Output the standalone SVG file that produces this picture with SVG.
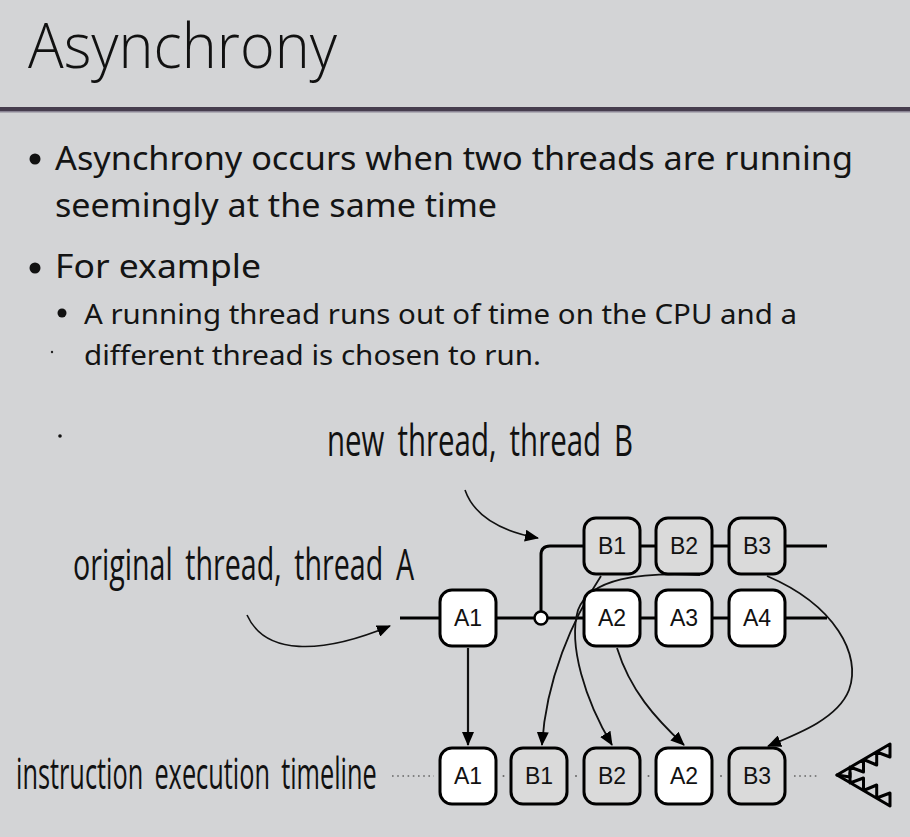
<svg xmlns="http://www.w3.org/2000/svg" width="910" height="837" viewBox="0 0 910 837">
  <defs>
    <style>
      .title { font-family: "Open Sans", "Liberation Sans", sans-serif; font-weight: 300; font-size: 62px; fill: #111; }
      .b1 { font-family: "Noto Sans", "Open Sans", sans-serif; font-size: 33px; fill: #141414; }
      .b2 { font-family: "Noto Sans", "Open Sans", sans-serif; font-size: 28px; fill: #141414; }
      .hand { font-family: "Open Sans", "DejaVu Sans", sans-serif; font-weight: 400; font-size: 44px; fill: #111; word-spacing: 8px; }
      .box { stroke: #000; stroke-width: 3; }
      .a { fill: #fff; }
      .b { fill: #dadada; }
      .lbl { font-family: "Liberation Sans", Arial, sans-serif; font-size: 23px; fill: #111; text-anchor: middle; }
      .wire { fill: none; stroke: #000; stroke-width: 3; }
      .flow { fill: none; stroke: #111; stroke-width: 1.8; marker-end: url(#head); }
      .flow0 { fill: none; stroke: #111; stroke-width: 2.2; marker-end: url(#head); }
      .pointer { fill: none; stroke: #111; stroke-width: 1.6; marker-end: url(#head); }
      .dots { fill: none; stroke: #666; stroke-width: 1.6; stroke-dasharray: 1.6 3.6; }
    </style>
    <marker id="head" viewBox="0 0 14 12" refX="13" refY="6" markerWidth="14" markerHeight="12" markerUnits="userSpaceOnUse" orient="auto">
      <path d="M0,0 L14,6 L0,12 Z" fill="#000"/>
    </marker>
  </defs>

  <!-- slide background -->
  <rect x="0" y="0" width="910" height="837" fill="#d3d4d6"/>

  <!-- title and rule -->
  <g id="title">
    <text class="title" x="28" y="68" textLength="309" lengthAdjust="spacingAndGlyphs">Asynchrony</text>
    <rect x="0" y="107" width="910" height="4" fill="#463d4e"/>
    <rect x="0" y="111" width="910" height="1.5" fill="#8a8494"/>
  </g>

  <!-- bullet text -->
  <g id="bullets">
    <circle cx="35" cy="159" r="5.5" fill="#111"/>
    <text class="b1" x="55" y="170" textLength="798" lengthAdjust="spacingAndGlyphs">Asynchrony occurs when two threads are running</text>
    <text class="b1" x="55" y="217" textLength="442" lengthAdjust="spacingAndGlyphs">seemingly at the same time</text>
    <circle cx="35" cy="268" r="5.5" fill="#111"/>
    <text class="b1" x="55" y="278" textLength="206" lengthAdjust="spacingAndGlyphs">For example</text>
    <circle cx="62" cy="313" r="4.5" fill="#111"/>
    <text class="b2" x="84" y="324" textLength="713" lengthAdjust="spacingAndGlyphs">A running thread runs out of time on the CPU and a</text>
    <circle cx="52" cy="352" r="1.2" fill="#222"/>
    <text class="b2" x="84" y="365" textLength="457" lengthAdjust="spacingAndGlyphs">different thread is chosen to run.</text>
    <circle cx="60" cy="436" r="1.8" fill="#111"/>
  </g>

  <!-- handwritten captions, drawn narrow by a horizontal squeeze -->
  <g id="captions">
    <text class="hand" transform="translate(327,456) scale(0.65,1)" textLength="471" lengthAdjust="spacingAndGlyphs">new thread, thread B</text>
    <text class="hand" transform="translate(73,580) scale(0.62,1)" textLength="550" lengthAdjust="spacingAndGlyphs">original thread, thread A</text>
    <text class="hand" transform="translate(16,789) scale(0.58,1)" textLength="622" lengthAdjust="spacingAndGlyphs">instruction execution timeline</text>
  </g>

  <!-- connectors -->
  <g id="connectors">
    <!-- thread A line -->
    <path class="wire" d="M400,618 H440 M496,618 H584 M640,618 H656 M712,618 H729 M785,618 H827"/>
    <!-- thread B branch -->
    <path class="wire" d="M541,611 V555 Q541,546 550,546 H584 M640,546 H656 M712,546 H729 M785,546 H827"/>
    <circle cx="541" cy="618" r="6.5" fill="#fff" stroke="#000" stroke-width="2.5"/>

    <!-- caption pointers -->
    <path class="pointer" d="M465,490 Q478,527 538,538"/>
    <path class="pointer" d="M247,615 C265,655 320,655 390,626"/>

    <!-- execution order -->
    <path class="flow0" d="M468,648 V745"/>
    <path class="flow" d="M601,576 C572,620 546,680 542,745"/>
    <path class="flow" d="M700,575 C640,572 590,578 578,610 C568,645 585,700 612,745"/>
    <path class="flow" d="M617,648 C630,690 655,718 684,745"/>
    <path class="flow" d="M767,576 C835,605 862,655 849,690 C838,718 800,733 768,746"/>

    <!-- timeline dots -->
    <path class="dots" d="M392,776 H434 M794,776 H820"/>
    <g fill="#666">
      <circle cx="503.5" cy="776" r="1"/>
      <circle cx="576" cy="776" r="1"/>
      <circle cx="648.5" cy="776" r="1"/>
      <circle cx="721" cy="776" r="1"/>
    </g>
  </g>

  <!-- thread A and B instructions -->
  <g id="A1"><rect class="box a" x="440" y="590" width="56" height="56" rx="12"/><text class="lbl" x="468" y="626">A1</text></g>
  <g id="A2"><rect class="box a" x="584" y="590" width="56" height="56" rx="12"/><text class="lbl" x="612" y="626">A2</text></g>
  <g id="A3"><rect class="box a" x="656" y="590" width="56" height="56" rx="12"/><text class="lbl" x="684" y="626">A3</text></g>
  <g id="A4"><rect class="box a" x="729" y="590" width="56" height="56" rx="12"/><text class="lbl" x="757" y="626">A4</text></g>
  <g id="B1"><rect class="box b" x="584" y="518" width="56" height="56" rx="12"/><text class="lbl" x="612" y="554">B1</text></g>
  <g id="B2"><rect class="box b" x="656" y="518" width="56" height="56" rx="12"/><text class="lbl" x="684" y="554">B2</text></g>
  <g id="B3"><rect class="box b" x="729" y="518" width="56" height="56" rx="12"/><text class="lbl" x="757" y="554">B3</text></g>

  <!-- execution timeline -->
  <g id="T-A1"><rect class="box a" x="440" y="748" width="56" height="56" rx="12"/><text class="lbl" x="468" y="784">A1</text></g>
  <g id="T-B1"><rect class="box b" x="511" y="748" width="56" height="56" rx="12"/><text class="lbl" x="539" y="784">B1</text></g>
  <g id="T-B2"><rect class="box b" x="584" y="748" width="56" height="56" rx="12"/><text class="lbl" x="612" y="784">B2</text></g>
  <g id="T-A2"><rect class="box a" x="656" y="748" width="56" height="56" rx="12"/><text class="lbl" x="684" y="784">A2</text></g>
  <g id="T-B3"><rect class="box b" x="729" y="748" width="56" height="56" rx="12"/><text class="lbl" x="757" y="784">B3</text></g>

  <!-- chomping jaws at end of timeline -->
  <g id="jaws" fill="none" stroke="#000" stroke-width="3" stroke-linejoin="round" stroke-linecap="round">
    <!-- upper jaw: arm with saw teeth hanging below -->
    <path d="M837,775 L890,744 L890,757 L876.7,752 L876.7,765 L863.5,759.5 L863.5,772 L850,767 L850,777 L837,775"/>
    <!-- lower jaw: arm with saw teeth standing above -->
    <path d="M837,775 L890,806 L890,793 L876.7,798 L876.7,785 L863.5,790.5 L863.5,778 L850,783 L850,773"/>
  </g>
</svg>
